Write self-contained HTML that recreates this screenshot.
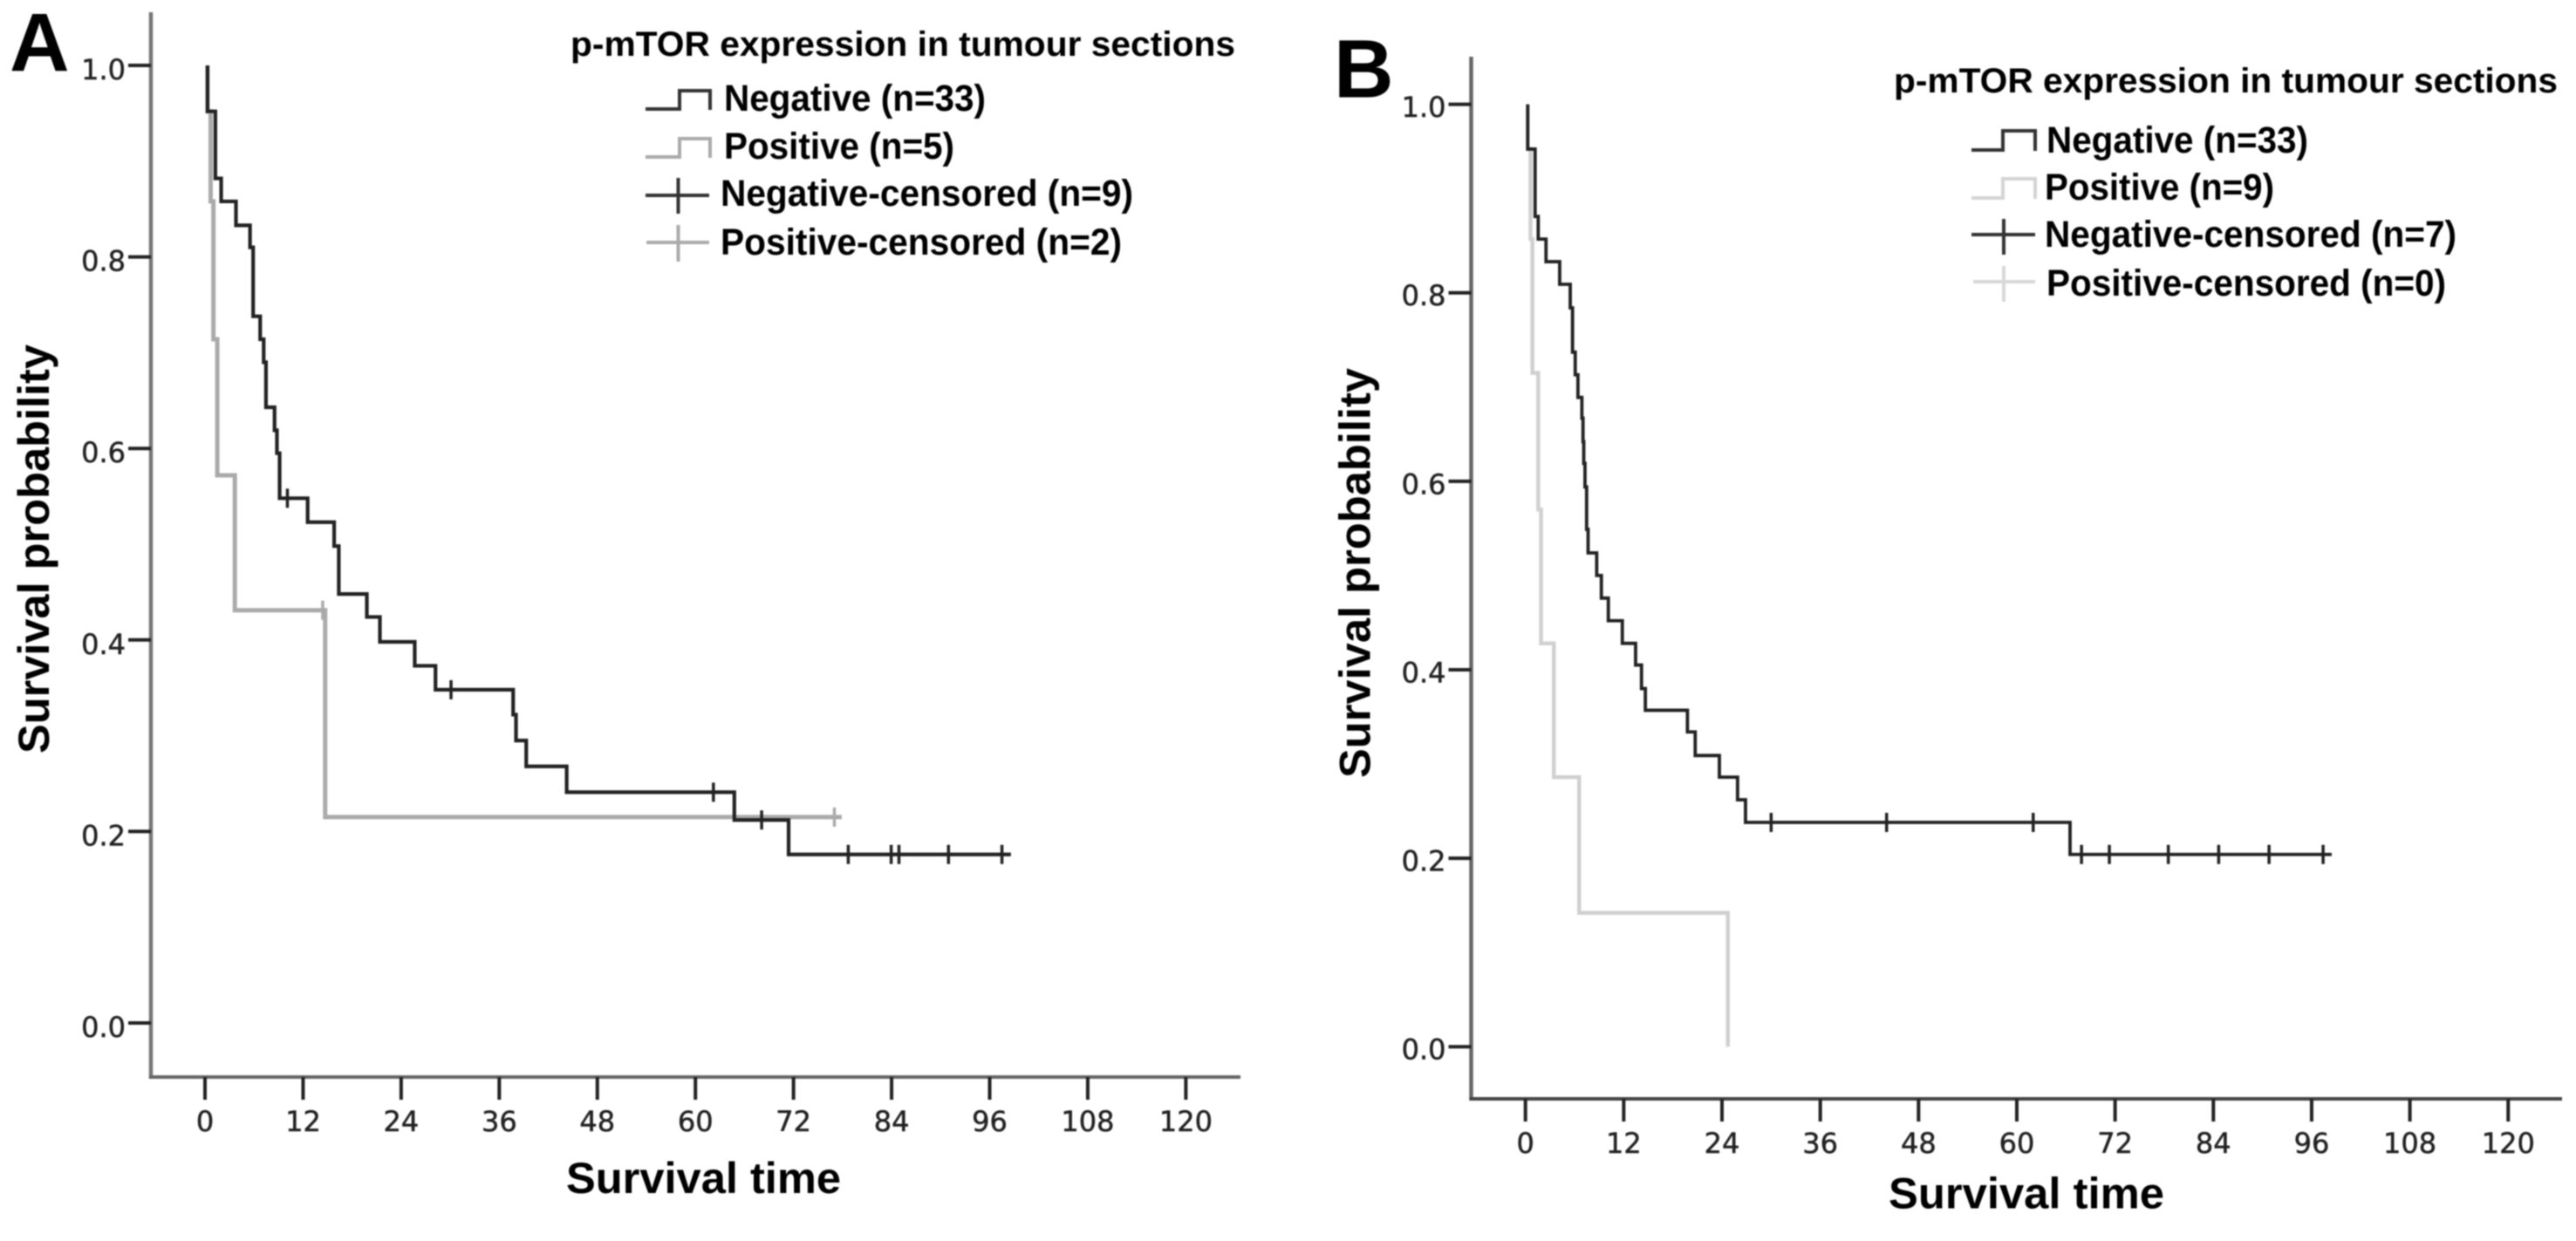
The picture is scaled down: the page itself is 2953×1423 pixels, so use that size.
<!DOCTYPE html>
<html lang="en">
<head>
<meta charset="utf-8">
<title>p-mTOR survival curves</title>
<style>
html,body{margin:0;padding:0;background:#fff;width:2953px;height:1423px;overflow:hidden}
svg{display:block;filter:blur(0.7px)}
text{font-family:"Liberation Sans",Arial,sans-serif;fill:#000}
.tick-label{font-family:"DejaVu Sans","Liberation Sans",sans-serif;font-size:32px;fill:#222;stroke:#222;stroke-width:.5px}
.leg{font-size:43px;font-weight:bold}
.ttl{font-size:40px;font-weight:bold}
.axt{font-size:50px;font-weight:bold}
.letter{font-size:95px;font-weight:bold}
</style>
</head>
<body>
<svg id="chart" xmlns="http://www.w3.org/2000/svg" width="2953" height="1423" viewBox="0 0 2953 1423">
<rect width="2953" height="1423" fill="#fff"/>

<g id="panel-a">
  <text class="letter" x="11" y="81">A</text>
  <text class="axt" transform="rotate(-90 56 864)" x="56" y="864" textLength="469" lengthAdjust="spacingAndGlyphs">Survival probability</text>
  <text class="axt" x="649" y="1368" textLength="315" lengthAdjust="spacingAndGlyphs">Survival time</text>
  <g>
    <text class="ttl" x="654" y="64" textLength="762" lengthAdjust="spacingAndGlyphs">p-mTOR expression in tumour sections</text>
    <path d="M740 125H779V104H814V126" fill="none" stroke="#333" stroke-width="4"/>
    <text class="leg" x="830" y="127" textLength="300" lengthAdjust="spacingAndGlyphs">Negative (n=33)</text>
    <path d="M740 180H779V159H814V181" fill="none" stroke="#aaa" stroke-width="4"/>
    <text class="leg" x="830" y="182" textLength="264" lengthAdjust="spacingAndGlyphs">Positive (n=5)</text>
    <path d="M740 224H813M777.5 204V245" fill="none" stroke="#333" stroke-width="4"/>
    <text class="leg" x="826" y="236" textLength="473" lengthAdjust="spacingAndGlyphs">Negative-censored (n=9)</text>
    <path d="M741 278H813M777.5 258V300" fill="none" stroke="#aaa" stroke-width="4"/>
    <text class="leg" x="826" y="292" textLength="460" lengthAdjust="spacingAndGlyphs">Positive-censored (n=2)</text>
  </g>
</g>

<g id="panel-b">
  <text class="letter" x="1529" y="111.5">B</text>
  <text class="axt" transform="rotate(-90 1570.5 892)" x="1570.5" y="892" textLength="470" lengthAdjust="spacingAndGlyphs">Survival probability</text>
  <text class="axt" x="2165" y="1385.5" textLength="316" lengthAdjust="spacingAndGlyphs">Survival time</text>
  <g>
    <text class="ttl" x="2171" y="106" textLength="761" lengthAdjust="spacingAndGlyphs">p-mTOR expression in tumour sections</text>
    <path d="M2260 172H2296V150H2333V173" fill="none" stroke="#333" stroke-width="4"/>
    <text class="leg" x="2346" y="175" textLength="300" lengthAdjust="spacingAndGlyphs">Negative (n=33)</text>
    <path d="M2260 227H2296V205H2333V228" fill="none" stroke="#d4d4d4" stroke-width="4"/>
    <text class="leg" x="2344" y="229" textLength="263" lengthAdjust="spacingAndGlyphs">Positive (n=9)</text>
    <path d="M2260 269H2333M2297 251V292" fill="none" stroke="#333" stroke-width="4"/>
    <text class="leg" x="2344" y="283" textLength="472" lengthAdjust="spacingAndGlyphs">Negative-censored (n=7)</text>
    <path d="M2262 323H2333M2297 305V346" fill="none" stroke="#d8d8d8" stroke-width="4"/>
    <text class="leg" x="2346" y="339" textLength="458" lengthAdjust="spacingAndGlyphs">Positive-censored (n=0)</text>
  </g>
</g>
</svg>

<script>
// Shared tick labels
const xTickLabels = [0, 12, 24, 36, 48, 60, 72, 84, 96, 108, 120];
const yTickLabels = ['0.0', '0.2', '0.4', '0.6', '0.8', '1.0'];

// Panel A: negative group (event times in months, survival after each event)
const aNegTimes = [0.31, 1.27, 1.98, 3.79, 5.51, 5.89, 6.75, 7.18, 7.46, 8.51, 8.8, 9.13, 12.56, 15.8, 16.37, 19.8, 21.4, 25.66, 28.2, 37.7, 38.05, 39.3, 44.25, 64.76, 71.4];
const aNegSurvival = [0.952, 0.882, 0.858, 0.833, 0.81, 0.738, 0.714, 0.69, 0.643, 0.619, 0.595, 0.548, 0.523, 0.498, 0.448, 0.424, 0.398, 0.373, 0.348, 0.322, 0.295, 0.268, 0.241, 0.212, 0.176];
const aNegEnd = 98.6;
const aNegCensorTimes = [10.08, 30.1, 62.2, 68.1, 78.7, 83.95, 84.9, 90.96, 97.5];

// Panel A: positive group
const aPosTimes = [0.31, 0.69, 1.03, 1.5, 3.65, 14.7];
const aPosSurvival = [0.952, 0.858, 0.714, 0.572, 0.431, 0.215];
const aPosEnd = 77.9;
const aPosCensorTimes = [14.4, 77];

// Panel B: negative group
const bNegTimes = [0.28, 1.18, 1.56, 2.51, 4.18, 5.47, 5.75, 6.08, 6.41, 6.89, 7.03, 7.12, 7.27, 7.47, 7.65, 8.7, 9.27, 10.12, 11.83, 13.45, 14.17, 14.64, 19.78, 20.73, 23.68, 25.9, 26.87, 66.5];
const bNegSurvival = [0.9525, 0.881, 0.857, 0.833, 0.809, 0.784, 0.737, 0.713, 0.689, 0.667, 0.642, 0.619, 0.594, 0.549, 0.524, 0.5, 0.476, 0.452, 0.428, 0.405, 0.38, 0.357, 0.334, 0.309, 0.286, 0.262, 0.238, 0.204];
const bNegEnd = 98.45;
const bNegCensorTimes = [30, 44.1, 62, 67.9, 71.3, 78.5, 84.65, 90.8, 97.4];

// Panel B: positive group
const bPosTimes = [0.28, 0.62, 0.85, 1.56, 1.9, 3.47, 6.56, 24.72];
const bPosSurvival = [0.9525, 0.857, 0.715, 0.57, 0.428, 0.286, 0.142, 0];
const bPosEnd = 24.72;
const bPosCensorTimes = [];

const NS = 'http://www.w3.org/2000/svg';

function make(parent, tag, geometry) {
  const el = document.createElementNS(NS, tag);
  for (const key in geometry) el.setAttribute(key, geometry[key]);
  parent.appendChild(el);
  return el;
}

function stepPath(times, survival, end, xScale, yScale) {
  let d = 'M' + xScale(times[0]) + ' ' + yScale(1);
  times.forEach(function (t, i) {
    d += 'H' + xScale(t) + 'V' + yScale(survival[i]);
  });
  d += 'H' + xScale(end);
  return d;
}

function survivalAt(t, times, survival) {
  let s = 1;
  times.forEach(function (et, i) {
    if (et <= t) s = survival[i];
  });
  return s;
}

function drawCurve(host, prefix, times, survival, end, censors, xScale, yScale, color, width) {
  const line = make(host, 'path', {
    d: stepPath(times, survival, end, xScale, yScale),
    fill: 'none', stroke: color, 'stroke-width': width
  });
  
  
  censors.forEach(function (t) {
    const cx = xScale(t);
    const cy = yScale(survivalAt(t, times, survival));
    const mark = make(host, 'line', {
      x1: cx, x2: cx, y1: cy - 11, y2: cy + 11,
      stroke: color, 'stroke-width': 3.5
    });
    
    
  });
}

function drawAxes(host, prefix, g, xScale, yScale) {
  const yAxis = make(host, 'line', {
    x1: g.axisX, x2: g.axisX, y1: g.axisTop, y2: g.axisY + 2,
    stroke: g.yAxisColor, 'stroke-width': 4.5
  });
  
  

  const xAxis = make(host, 'line', {
    x1: g.axisX - 2, x2: g.axisRight, y1: g.axisY, y2: g.axisY,
    stroke: g.xAxisColor, 'stroke-width': 4
  });
  
  

  xTickLabels.forEach(function (v) {
    const tick = make(host, 'line', {
      x1: xScale(v), x2: xScale(v), y1: g.axisY, y2: g.axisY + 26,
      stroke: '#222', 'stroke-width': 4
    });
    
    
    const label = make(host, 'text', {
      x: xScale(v), y: g.axisY + 62, 'text-anchor': 'middle', class: 'tick-label'
    });
    label.textContent = String(v);
    
    
  });

  yTickLabels.forEach(function (v) {
    const py = yScale(parseFloat(v));
    const tick = make(host, 'line', {
      x1: g.axisX - 26, x2: g.axisX, y1: py, y2: py,
      stroke: '#222', 'stroke-width': 4
    });
    
    
    const label = make(host, 'text', {
      x: g.axisX - 29, y: py + g.labelDrop, 'text-anchor': 'end', class: 'tick-label'
    });
    label.textContent = v;
    
    
  });
}

function linear(origin, perUnit) {
  return function (v) { return +(origin + perUnit * v).toFixed(2); };
}

// Panel A
const ax = linear(235, 9.37);
const ay = linear(1173, -1098);
const hostA = document.getElementById('panel-a');
drawAxes(hostA, 'panel-a', {axisX: 173, axisTop: 14, axisY: 1235, axisRight: 1422, yAxisColor: '#777', xAxisColor: '#666', labelDrop: 16}, ax, ay);
drawCurve(hostA, 'panel-a-positive', aPosTimes, aPosSurvival, aPosEnd, aPosCensorTimes, ax, ay, '#aaa', 5);
drawCurve(hostA, 'panel-a-negative', aNegTimes, aNegSurvival, aNegEnd, aNegCensorTimes, ax, ay, '#222', 4.2);

// Panel B
const bx = linear(1748.7, 9.388);
const by = linear(1200.2, -1080.6);
const hostB = document.getElementById('panel-b');
drawAxes(hostB, 'panel-b', {axisX: 1686.5, axisTop: 65, axisY: 1260, axisRight: 2937, yAxisColor: '#666', xAxisColor: '#444', labelDrop: 14.5}, bx, by);
drawCurve(hostB, 'panel-b-positive', bPosTimes, bPosSurvival, bPosEnd, bPosCensorTimes, bx, by, '#d0d0d0', 4.5);
drawCurve(hostB, 'panel-b-negative', bNegTimes, bNegSurvival, bNegEnd, bNegCensorTimes, bx, by, '#222', 3.8);
</script>
</body>
</html>
